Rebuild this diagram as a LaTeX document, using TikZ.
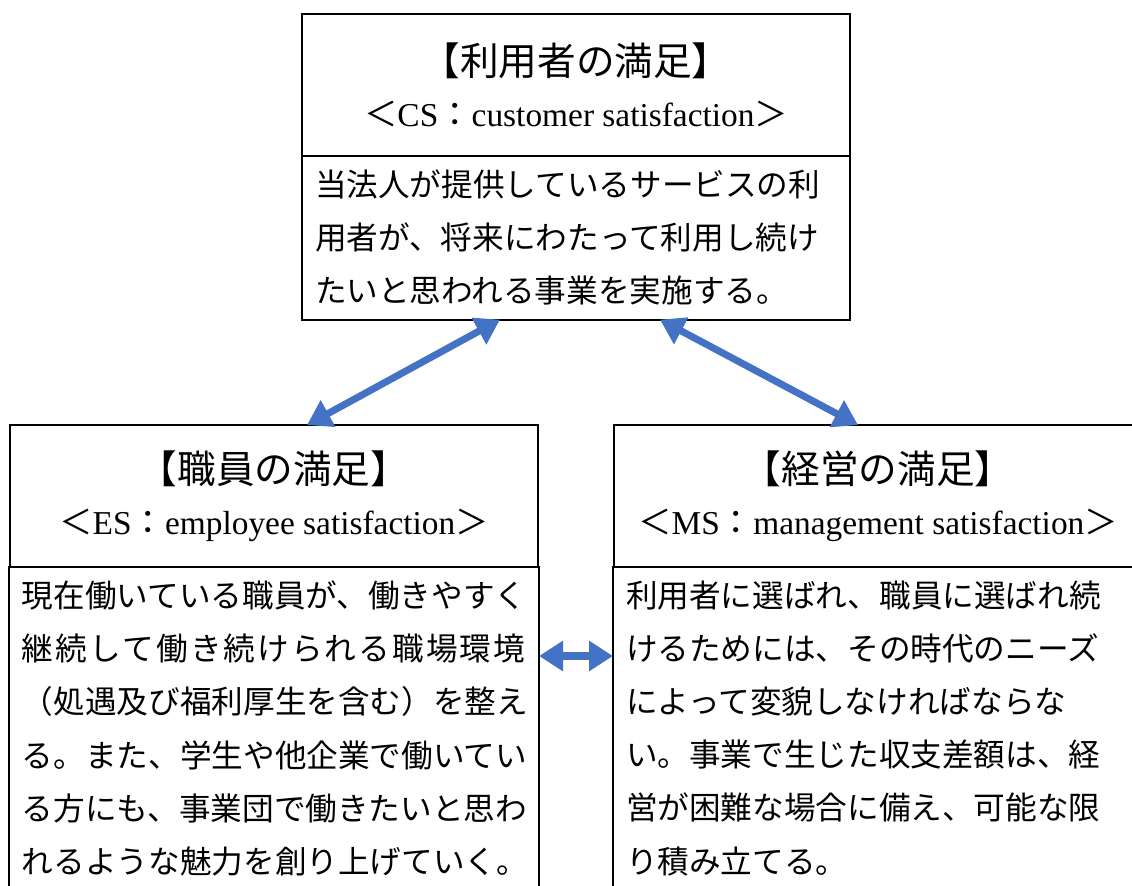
\documentclass[tikz,border=0pt]{standalone}
\usepackage{fontspec}
\setmainfont{Liberation Serif}
\newfontfamily\jp{Noto Sans CJK JP}
\usetikzlibrary{arrows.meta, positioning}
\definecolor{linkblue}{HTML}{4472C4}
\newcommand\satname[1]{{\fontsize{22}{29}\selectfont\jp #1}}
\newcommand\satabbr[2]{{\jp ＜}#1{\jp ：}#2{\jp ＞}}

\begin{document}
\begin{tikzpicture}[
node distance=0pt and 1.52cm,
head/.style={draw, line width=1.1pt, outer sep=0pt, align=center, minimum height=2.84cm, inner sep=0pt, font=\fontsize{19}{29}\selectfont},
body/.style={draw, line width=1.1pt, outer sep=0pt, align=left, inner xsep=0.26cm, inner ysep=8pt, font=\jp\fontsize{18}{30.2}\selectfont},
link/.style={draw=linkblue, line width=4pt, {Triangle[length=0.48cm, width=0.58cm]}-{Triangle[length=0.48cm, width=0.58cm]}}
]
\useasboundingbox (0,0) rectangle (22.64,-17.7);

% top: users
\node[head, minimum width=10.96cm, anchor=north] (cshead) at (11.52,-0.28)
  {\satname{【利用者の満足】}\\ \satabbr{CS}{customer satisfaction}};
\node[body, text width=10.44cm, below=of cshead] (csbody)
  {当法人が提供しているサービスの利\\
   用者が、将来にわたって利用し続け\\
   たいと思われる事業を実施する。};

% left: staff
\node[head, minimum width=10.56cm, anchor=north west] (eshead) at (0.2,-8.5)
  {\satname{【職員の満足】}\\ \satabbr{ES}{employee satisfaction}};
\node[body, text width=10.08cm, below=of eshead] (esbody)
  {現在働いている職員が、働きやすく\\
   \makebox[10.06cm][s]{継\hfil 続\hfil し\hfil て\hfil 働\hfil き\hfil 続\hfil け\hfil ら\hfil れ\hfil る\hfil 職\hfil 場\hfil 環\hfil 境}\\
   （処遇及び福利厚生を含む）を整え\\
   る。また、学生や他企業で働いてい\\
   る方にも、事業団で働きたいと思わ\\
   れるような魅力を創り上げていく。};

% right: management
\node[head, minimum width=10.56cm, right=of eshead] (mshead)
  {\satname{【経営の満足】}\\ \satabbr{MS}{management satisfaction}};
\node[body, text width=10.08cm, below=of mshead] (msbody)
  {利用者に選ばれ、職員に選ばれ続\\
   けるためには、その時代のニーズ\\
   によって変貌しなければならな\\
   い。事業で生じた収支差額は、経\\
   営が困難な場合に備え、可能な限\\
   り積み立てる。};

\draw[link] ([xshift=-1.52cm]csbody.south) -- ([xshift=0.66cm]eshead.north);
\draw[link] ([xshift=1.68cm]csbody.south) -- ([xshift=-0.4cm]mshead.north);
\draw[link] ([yshift=-1.78cm]esbody.north east) -- ([yshift=-1.78cm]msbody.north west);

\end{tikzpicture}
\end{document}
